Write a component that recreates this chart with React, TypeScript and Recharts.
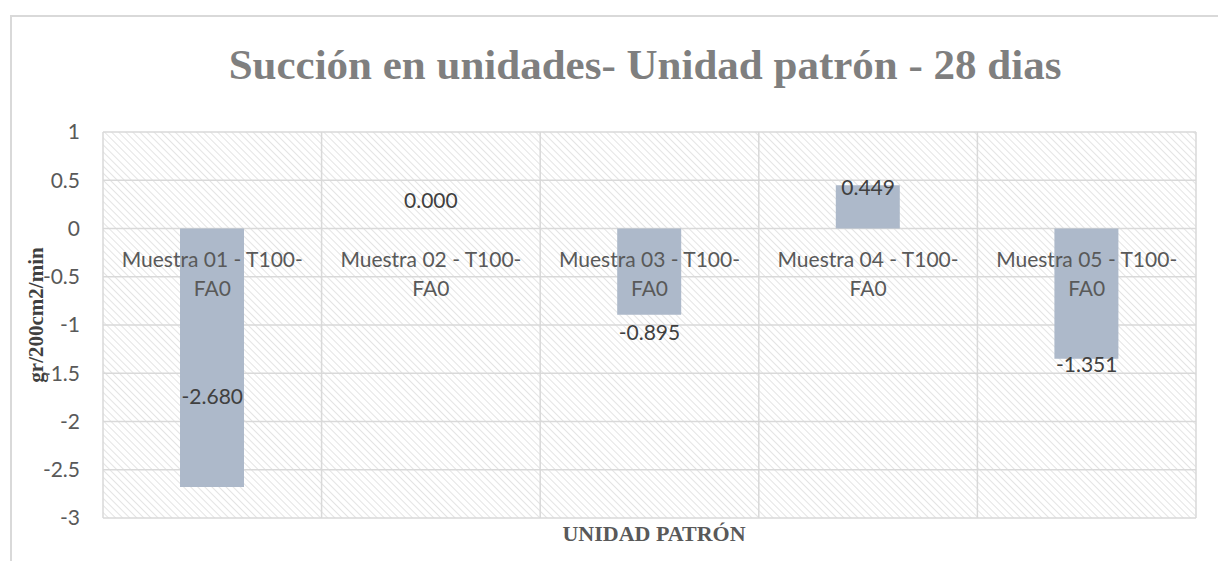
import { BarChart, Bar, XAxis, YAxis, CartesianGrid, ReferenceDot } from 'recharts';

const categories = [
    'Muestra 01 - T100-FA0',
    'Muestra 02 - T100-FA0',
    'Muestra 03 - T100-FA0',
    'Muestra 04 - T100-FA0',
    'Muestra 05 - T100-FA0',
];
const values = [-2.68, 0.0, -0.895, 0.449, -1.351];
const yTicks = [-3, -2.5, -2, -1.5, -1, -0.5, 0, 0.5, 1];

const data = categories.map((name, i) => ({ name, value: values[i] }));

// the value labels were moved by hand in the original workbook
const labelDy = [-90, -28, 18, 3, 6];

const sans = 'Lato, "Open Sans", sans-serif';
const serif = '"Liberation Serif", "Times New Roman", serif';

const centre = (vb: any) => ({
    cx: Number(vb?.x ?? 0) + Number(vb?.width ?? 0) / 2,
    cy: Number(vb?.y ?? 0) + Number(vb?.height ?? 0) / 2,
});

export default function App() {
    return (
        <div style={{ position: 'relative', margin: -8, width: 1226, height: 569, overflow: 'hidden', background: '#fff' }}>
            <div
                style={{
                    position: 'absolute',
                    left: 10,
                    top: 15,
                    width: 1206,
                    height: 600,
                    border: '2px solid #d9d9d9',
                }}
            />
            <div
                style={{
                    position: 'absolute',
                    left: 0,
                    width: 1290,
                    top: 40,
                    textAlign: 'center',
                    fontFamily: serif,
                    fontWeight: 'bold',
                    fontSize: 43,
                    color: '#7f7f7f',
                    lineHeight: '50px',
                    whiteSpace: 'nowrap',
                }}
            >
                Succión en unidades- Unidad patrón - 28 dias
            </div>
            <div
                style={{
                    position: 'absolute',
                    left: 36,
                    top: 315,
                    transform: 'translate(-50%, -50%) rotate(-90deg)',
                    whiteSpace: 'nowrap',
                    fontFamily: serif,
                    fontWeight: 'bold',
                    fontSize: 21,
                    lineHeight: '24px',
                    color: '#404040',
                }}
            >
                gr/200cm2/min
            </div>
            <div
                style={{
                    position: 'absolute',
                    left: 0,
                    width: 1308,
                    top: 522,
                    textAlign: 'center',
                    fontFamily: serif,
                    fontWeight: 'bold',
                    fontSize: 22,
                    lineHeight: '23px',
                    color: '#595959',
                }}
            >
                UNIDAD PATRÓN
            </div>
            <div style={{ position: 'absolute', left: 0, top: 0 }}>
                <BarChart
                    width={1226}
                    height={569}
                    data={data}
                    margin={{ top: 132, right: 30, left: 33, bottom: 51 }}
                >
                    <defs>
                        <pattern id="hatch" width="5" height="5" patternUnits="userSpaceOnUse" patternTransform="rotate(-45)">
                            <rect width="5" height="5" fill="#ffffff" />
                            <line x1="0" y1="0" x2="0" y2="5" stroke="#dcdcdc" strokeWidth="1.5" />
                        </pattern>
                    </defs>
                    <CartesianGrid
                        fill="url(#hatch)"
                        stroke="#d9d9d9"
                        strokeWidth={1.5}
                        verticalCoordinatesGenerator={({ offset }: any) =>
                            categories
                                .map((_, i) => offset.left + (i * offset.width) / categories.length)
                                .concat(offset.left + offset.width)
                        }
                        horizontalCoordinatesGenerator={({ offset }: any) =>
                            yTicks.map((t) => offset.top + ((1 - t) / 4) * offset.height)
                        }
                    />
                    <XAxis dataKey="name" tick={false} axisLine={false} tickLine={false} height={0} />
                    <YAxis
                        domain={[-3, 1]}
                        ticks={yTicks}
                        width={70}
                        axisLine={false}
                        tickLine={false}
                        interval={0}
                        tick={{ fontFamily: sans, fontSize: 21, fill: '#595959' }}
                        tickMargin={17}
                    />
                    <Bar dataKey="value" fill="#adb9ca" barSize={64} isAnimationActive={false} />
                    {categories.map((name, i) => (
                        <ReferenceDot
                            key={'cat' + i}
                            x={name}
                            y={0}
                            r={1}
                            fill="none"
                            stroke="none"
                            label={{
                                content: (p: any) => {
                                    const { cx, cy } = centre(p.viewBox);
                                    return (
                                        <text textAnchor="middle" fontFamily={sans} fontSize={21} fill="#595959">
                                            <tspan x={cx} y={cy + 38}>{name.replace('FA0', '')}</tspan>
                                            <tspan x={cx} y={cy + 67}>FA0</tspan>
                                        </text>
                                    );
                                },
                            }}
                        />
                    ))}
                    {categories.map((name, i) => (
                        <ReferenceDot
                            key={'val' + i}
                            x={name}
                            y={values[i]}
                            r={1}
                            fill="none"
                            stroke="none"
                            label={{
                                content: (p: any) => {
                                    const { cx, cy } = centre(p.viewBox);
                                    return (
                                        <text
                                            x={cx}
                                            y={cy + labelDy[i] + 7}
                                            textAnchor="middle"
                                            fontFamily={sans}
                                            fontSize={21}
                                            fill="#404040"
                                        >
                                            {values[i].toFixed(3)}
                                        </text>
                                    );
                                },
                            }}
                        />
                    ))}
                </BarChart>
            </div>
        </div>
    );
}
